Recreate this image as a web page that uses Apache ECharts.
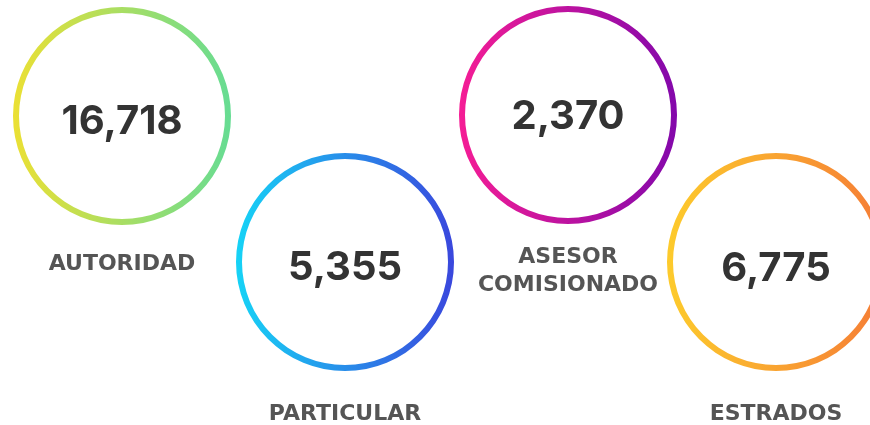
<!DOCTYPE html>
<html>
<head>
<meta charset="utf-8">
<script src="https://cdn.jsdelivr.net/npm/echarts@6/dist/echarts.min.js"></script>
<style>
  html, body { margin: 0; padding: 0; background: #fff; }
  #chart { width: 870px; height: 425px; }
</style>
</head>
<body>
<div id="chart"></div>
<script>
// datos
const categories = ['AUTORIDAD', 'PARTICULAR', 'ASESOR\nCOMISIONADO', 'ESTRADOS'];
const values = [16718, 5355, 2370, 6775];

// posiciones / colores de cada anillo
const centers = [[122, 116], [345, 262], [568, 115], [776, 262]];
const labelShift = [6, 6, 2, 7];
const nameTops = [250, 400, 243, 400];
const gradients = [
    ['#ebe034', '#66dc93'],
    ['#16d3f6', '#3a47dd'],
    ['#f51d95', '#8308ab'],
    ['#fdcb2c', '#f57c36']
];

const chart = echarts.init(document.getElementById('chart'));

const series = values.map((v, i) => ({
    type: 'pie',
    silent: true,
    center: centers[i],
    radius: [103, 109],
    startAngle: 90,
    labelLine: { show: false },
    itemStyle: {
        color: new echarts.graphic.LinearGradient(0, 0, 1, 0, [
            { offset: 0, color: gradients[i][0] },
            { offset: 1, color: gradients[i][1] }
        ])
    },
    label: {
        show: true,
        position: 'center',
        formatter: p => p.value.toLocaleString('en-US'),
        fontFamily: 'Inter',
        fontWeight: 700,
        fontSize: 40,
        color: '#333333',
        offset: [0, labelShift[i]]
    },
    data: [{ name: categories[i], value: v }]
}));

const title = categories.map((c, i) => ({
    text: c,
    left: centers[i][0],
    top: nameTops[i],
    textAlign: 'center',
    padding: 0,
    textStyle: {
        fontFamily: 'DejaVu Sans',
        fontWeight: 'bold',
        fontSize: 22,
        lineHeight: 28,
        color: '#555555'
    }
}));

chart.setOption({
    backgroundColor: '#ffffff',
    animation: false,
    title: title,
    series: series
});
</script>
</body>
</html>
